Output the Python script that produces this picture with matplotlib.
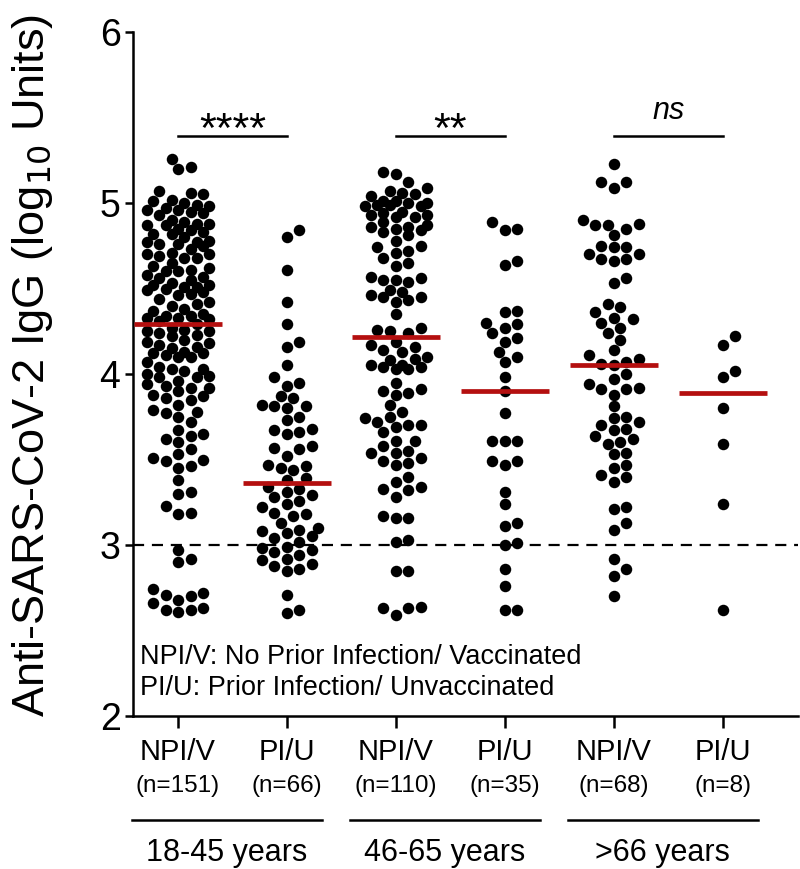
import numpy as np
import matplotlib
matplotlib.use("Agg")
import matplotlib.pyplot as plt
from matplotlib.transforms import blended_transform_factory
import logging
logging.getLogger('matplotlib.font_manager').setLevel(logging.ERROR)

plt.rcParams['font.family'] = ['Liberation Sans', 'DejaVu Sans']

# ---------------- data ----------------
categories = ["NPI/V", "PI/U", "NPI/V", "PI/U", "NPI/V", "PI/U"]
n_labels = ["(n=151)", "(n=66)", "(n=110)", "(n=35)", "(n=68)", "(n=8)"]
age_groups = ["18-45 years", "46-65 years", ">66 years"]
significance = ["****", "**", "ns"]

npiv_18_45 = [
    5.26, 5.21, 5.20, 5.07, 5.06, 5.05, 5.02, 5.01, 5.00, 4.98,
    4.97, 4.96, 4.96, 4.95, 4.93, 4.89, 4.88, 4.88, 4.87, 4.87,
    4.84, 4.83, 4.82, 4.82, 4.78, 4.77, 4.77, 4.76, 4.76, 4.75,
    4.71, 4.70, 4.70, 4.69, 4.68, 4.68, 4.63, 4.62, 4.61, 4.60,
    4.60, 4.58, 4.57, 4.56, 4.53, 4.52, 4.52, 4.51, 4.51, 4.50,
    4.48, 4.47, 4.46, 4.42, 4.41, 4.40, 4.35, 4.34, 4.34, 4.33,
    4.33, 4.32,
    4.99, 4.94, 4.90, 4.85, 4.80, 4.73, 4.65, 4.55, 4.49, 4.44,
    4.38, 4.37, 4.31,
    4.27, 4.26, 4.25, 4.25, 4.24, 4.23, 4.20, 4.19, 4.18, 4.17,
    4.16, 4.13, 4.12, 4.12, 4.11, 4.10, 4.10, 4.04, 4.03, 4.03,
    4.02, 3.99, 3.98, 3.98, 3.94, 3.93, 3.92, 3.92, 3.88, 3.87,
    3.86, 3.85, 3.79, 3.78, 3.77, 3.75, 3.67, 3.65, 3.64, 3.62,
    3.60, 3.53, 3.51, 3.50, 3.49, 3.46, 3.45, 3.38, 3.31, 3.30,
    3.23, 3.19, 3.18, 2.97, 2.92, 2.90, 2.74, 2.72, 2.71, 2.70,
    2.68, 2.66, 2.63, 2.62, 2.62, 2.61,
    4.29, 4.22, 4.15, 4.07, 4.00, 3.96, 3.90, 3.82, 3.72, 3.56,
]
piu_18_45 = [
    4.84, 4.80, 4.61, 4.42, 4.29, 4.19, 4.16, 4.05, 3.98, 3.95,
    3.93, 3.87, 3.86, 3.82, 3.81, 3.81, 3.80, 3.73, 3.68, 3.67,
    3.66, 3.65, 3.58, 3.57, 3.56, 3.47, 3.46, 3.45, 3.44, 3.39,
    3.38, 3.34, 3.33, 3.31, 3.29, 3.28, 3.26, 3.22, 3.19, 3.18,
    3.17, 3.10, 3.09, 3.08, 3.07, 3.05, 3.04, 2.99, 2.98, 2.97,
    2.96, 2.94, 2.92, 2.91, 2.89, 2.88, 2.86, 2.85, 2.71, 2.62,
    2.60, 3.75, 3.52, 3.24, 3.13, 3.02,
]
npiv_46_65 = [
    5.18, 5.17, 5.12, 5.09, 5.07, 5.06, 5.05, 5.04, 5.01, 5.01,
    5.00, 5.00, 4.99, 4.99, 4.98, 4.98, 4.95, 4.94, 4.93, 4.93,
    4.92, 4.92, 4.89, 4.87, 4.86, 4.86, 4.85, 4.84, 4.83, 4.81,
    4.78, 4.75, 4.74, 4.72, 4.71, 4.68, 4.65, 4.63, 4.57, 4.56,
    4.55, 4.55, 4.54, 4.49, 4.48, 4.46, 4.45, 4.45, 4.43, 4.42,
    4.35, 4.27, 4.26, 4.25, 4.24, 4.19, 4.17, 4.16, 4.14, 4.10,
    4.09, 4.08, 4.05, 4.05, 4.04, 4.04, 4.03, 4.03, 3.91, 3.90,
    3.89, 3.88, 3.82, 3.78, 3.74, 3.75, 3.69, 3.72, 3.70, 3.70,
    3.66, 3.61, 3.61, 3.58, 3.55, 3.54, 3.54, 3.49, 3.51, 3.47,
    3.48, 3.40, 3.32, 3.33, 3.37, 3.28, 3.34, 3.17, 3.16, 3.16,
    3.03, 3.02, 2.85, 2.85, 2.63, 2.63, 2.64, 2.59, 4.13, 3.95,
]
piu_46_65 = [
    4.89, 4.85, 4.84, 4.66, 4.64, 4.37, 4.36, 4.30, 4.29, 4.27,
    4.24, 4.21, 4.19, 4.13, 4.10, 4.07, 3.98, 3.90, 3.77, 3.61,
    3.61, 3.61, 3.49, 3.49, 3.47, 3.31, 3.24, 3.13, 3.11, 3.01,
    3.00, 2.86, 2.76, 2.62, 2.62,
]
npiv_66 = [
    5.23, 5.12, 5.12, 5.09, 4.90, 4.88, 4.87, 4.87, 4.85, 4.81,
    4.75, 4.74, 4.74, 4.70, 4.70, 4.67, 4.67, 4.66, 4.56, 4.53,
    4.41, 4.39, 4.36, 4.33, 4.32, 4.30, 4.27, 4.24, 4.20, 4.14,
    4.11, 4.09, 4.07, 4.06, 4.05, 4.00, 3.97, 3.94, 3.92, 3.91,
    3.91, 3.88, 3.81, 3.75, 3.74, 3.72, 3.70, 3.68, 3.67, 3.64,
    3.62, 3.60, 3.59, 3.54, 3.53, 3.47, 3.45, 3.41, 3.40, 3.37,
    3.22, 3.21, 3.13, 3.09, 2.92, 2.86, 2.82, 2.70,
]
piu_66 = [4.22, 4.17, 4.02, 3.98, 3.80, 3.59, 3.24, 2.62]

groups = [npiv_18_45, piu_18_45, npiv_46_65, piu_46_65, npiv_66, piu_66]
threshold = 3.0

# ---------------- figure ----------------
W, H, DPI = 800, 869, 100
fig = plt.figure(figsize=(W / DPI, H / DPI), dpi=DPI)
ax_l, ax_r, ax_b, ax_t = 133, 798, 716, 32   # pixel positions of axes box
ax = fig.add_axes([ax_l / W, 1 - ax_b / H, (ax_r - ax_l) / W, (ax_b - ax_t) / H])
xlim = (-0.413, 5.69)
ylim = (2, 6)
ax.set_xlim(*xlim)
ax.set_ylim(*ylim)

px_per_x = (ax_r - ax_l) / (xlim[1] - xlim[0])
px_per_y = (ax_b - ax_t) / (ylim[1] - ylim[0])

dot_d = 11.5     # marker diameter in px
sep = 11.0       # preferred min center distance
step = 6.25
kmax = 5


def swarm(vals):
    vals = np.asarray(vals, float)
    order = np.argsort(vals)
    ys = vals[order] * px_per_y
    placed = []
    offs = np.zeros(len(vals))
    cands = [0.0]
    for k in range(1, kmax + 1):
        cands += [k * step, -k * step]
    for i, y in enumerate(ys):
        best_c, best_d = 0.0, -1.0
        chosen = None
        for c in cands:
            dmin = 1e9
            for (px, py) in placed:
                if abs(py - y) < sep:
                    dd = np.hypot(px - c, py - y)
                    if dd < dmin:
                        dmin = dd
            if dmin >= sep:
                chosen = c
                break
            if dmin > best_d:
                best_d, best_c = dmin, c
        if chosen is None:
            chosen = best_c
        placed.append((chosen, y))
        offs[order[i]] = chosen
    return offs / px_per_x


for i, g in enumerate(groups):
    xo = swarm(g)
    ax.scatter(i + xo, g, s=(dot_d * 72 / DPI) ** 2, color="black",
               linewidths=0, zorder=3)
    med = np.median(g)
    hw = 44 / px_per_x
    ax.plot([i - hw, i + hw], [med, med], color="#B40F0F", lw=3.4,
            solid_capstyle="butt", zorder=4)

ax.axhline(threshold, color="black", lw=1.6, ls=(0, (5, 3.5)), zorder=1)

# significance bars
for k, s in enumerate(significance):
    x0, x1 = 2 * k, 2 * k + 1
    yb = 5.39
    ax.plot([x0, x1], [yb, yb], color="black", lw=1.8, clip_on=False)
    if s == "ns":
        ax.text((x0 + x1) / 2, yb + 0.10, s, ha="center", va="baseline",
                fontsize=22, style="italic")
    else:
        ax.text((x0 + x1) / 2, yb - 0.035, s, ha="center", va="baseline",
                fontsize=31)

# axes styling
for sp in ["top", "right"]:
    ax.spines[sp].set_visible(False)
for sp in ["left", "bottom"]:
    ax.spines[sp].set_linewidth(1.8)
ax.set_yticks([2, 3, 4, 5, 6])
ax.set_yticklabels(["2", "3", "4", "5", "6"], fontsize=27)
ax.tick_params(axis="y", length=6, width=1.8, pad=3)
ax.set_xticks(range(6))
ax.set_xticklabels([])
ax.tick_params(axis="x", length=8.5, width=1.8)

fig.text(33 / W, 1 - 365 / H, "Anti-SARS-CoV-2 IgG (log$_{10}$ Units)",
         fontsize=32.5, rotation=90, ha="center", va="center")

# category labels
tr = blended_transform_factory(ax.transData, fig.transFigure)
for i, (c, n) in enumerate(zip(categories, n_labels)):
    ax.text(i, 1 - 752 / H, c, transform=tr, ha="center", va="center",
            fontsize=21)
    ax.text(i, 1 - 786 / H, n, transform=tr, ha="center", va="center",
            fontsize=17.5)

for k, a in enumerate(age_groups):
    x0, x1 = 2 * k - 0.42, 2 * k + 1.32
    yl = 1 - 820 / H
    ax.plot([x0, x1], [yl, yl], transform=tr, color="black", lw=1.8,
            clip_on=False)
    ax.text((x0 + x1) / 2, 1 - 853 / H, a, transform=tr, ha="center",
            va="center", fontsize=22)

# legend text
fig.text(140 / W, 1 - 657 / H, "NPI/V: No Prior Infection/ Vaccinated",
         fontsize=19.5, ha="left", va="center")
fig.text(140 / W, 1 - 688 / H, "PI/U: Prior Infection/ Unvaccinated",
         fontsize=19.5, ha="left", va="center")

fig.savefig("out.png", dpi=DPI)
